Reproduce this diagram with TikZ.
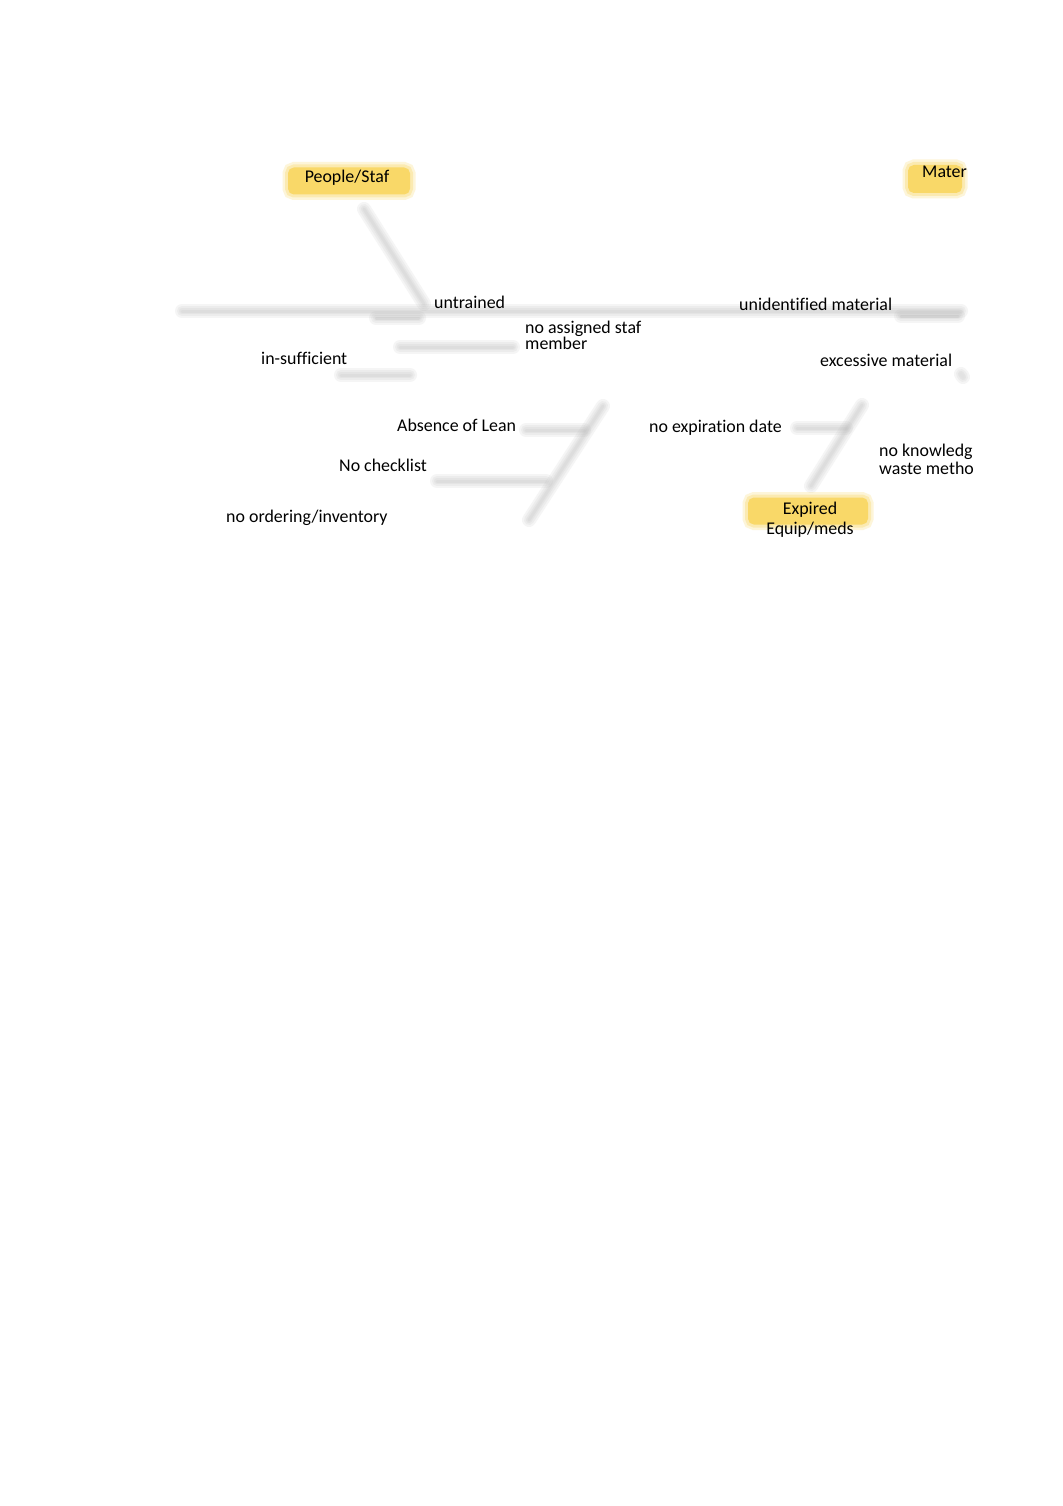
\documentclass[tikz,border=0pt]{standalone}
\usepackage{fontspec}
\setmainfont{Carlito}[Ligatures=NoCommon]
\definecolor{ygold}{RGB}{249,216,104}
\tikzset{
  lbl/.style={anchor=base west, inner sep=0pt, font=\fontsize{17.9}{18}\selectfont},
  lblc/.style={anchor=base, inner sep=0pt, font=\fontsize{17.9}{18}\selectfont},
  ybox/.style={fill=ygold, draw=ygold, line width=2pt, rounded corners=5pt, inner sep=0pt,
    preaction={draw=ygold, draw opacity=0.25, line width=13pt},
    preaction={draw=ygold, draw opacity=0.35, line width=8pt}},
  fish/.style={draw=black!30, draw opacity=0.13, line width=3pt, line cap=round,
    preaction={draw=black!30, draw opacity=0.13, line width=14pt, line cap=round},
    preaction={draw=black!30, draw opacity=0.13, line width=10pt, line cap=round},
    preaction={draw=black!30, draw opacity=0.13, line width=6pt, line cap=round}},
  rib/.style={fish, draw=black!45}
}
\begin{document}
\begin{tikzpicture}[x=1pt,y=-1pt]
\useasboundingbox[fill=white] (0,0) rectangle (1062,1506);
% coordinates
\coordinate (sp1) at (182,311);
\coordinate (sp2) at (961,311);
\coordinate (pd1) at (364,209);
\coordinate (pd2) at (424,304);
\coordinate (r1a) at (376,318); \coordinate (r1b) at (419,318);
\coordinate (r2a) at (400,347); \coordinate (r2b) at (513,347);
\coordinate (r3a) at (341,375); \coordinate (r3b) at (410,375);
\coordinate (ld1) at (603,406); \coordinate (ld2) at (529,520);
\coordinate (r4a) at (526,430); \coordinate (r4b) at (584,430);
\coordinate (r5a) at (437,481); \coordinate (r5b) at (546,481);
\coordinate (rd1) at (862,405); \coordinate (rd2) at (811,486);
\coordinate (r6a) at (797,428); \coordinate (r6b) at (846,428);
\coordinate (r7a) at (901,316); \coordinate (r7b) at (958,316);
\coordinate (r8a) at (961,374); \coordinate (r8b) at (963,377);
% fishbone lines
\draw[fish] (sp1) -- (sp2);
\draw[fish] (pd1) -- (pd2);
\draw[rib] (r1a) -- (r1b);
\draw[fish] (r2a) -- (r2b);
\draw[fish] (r3a) -- (r3b);
\draw[fish] (ld1) -- (ld2);
\draw[fish] (r4a) -- (r4b);
\draw[fish] (r5a) -- (r5b);
\draw[fish] (rd1) -- (rd2);
\draw[fish] (r6a) -- (r6b);
\draw[rib] (r7a) -- (r7b);
\draw[fish, draw=black!15] (r8a) -- (r8b);
% category boxes
\node[ybox, minimum width=120, minimum height=25] (ps) at (349,181) {};
\node[ybox, minimum width=52, minimum height=26] (mt) at (935,179) {};
\node[ybox, minimum width=118, minimum height=25] (ex) at (808,511) {};
% labels
\node[lblc] (tps) at (347,182.5) {People/Staf};
\node[lbl] (tmt) at (922,177.5) {Mater};
\node[lblc] (tex1) at (810,514) {Expired};
\node[lblc] (tex2) at (810,534) {Equip/meds};
\node[lbl] (t1) at (434,308.5) {untrained};
\node[lbl] (t2a) at (525,333.5) {no assigned staf};
\node[lbl] (t2b) at (525,349.5) {member};
\node[lbl] (t3) at (261,364.5) {in-sufficient};
\node[lbl] (t4) at (739,310.5) {unidentified material};
\node[lbl] (t5) at (820,366.5) {excessive material};
\node[lbl] (t6) at (397,431.5) {Absence of Lean};
\node[lbl] (t7) at (339,471.5) {No checklist};
\node[lbl] (t8) at (226,522.5) {no ordering/inventory};
\node[lbl] (t9) at (649,432.5) {no expiration date};
\node[lbl] (t10a) at (879,456.5) {no knowledg};
\node[lbl] (t10b) at (879,474.5) {waste metho};
\end{tikzpicture}
\end{document}
